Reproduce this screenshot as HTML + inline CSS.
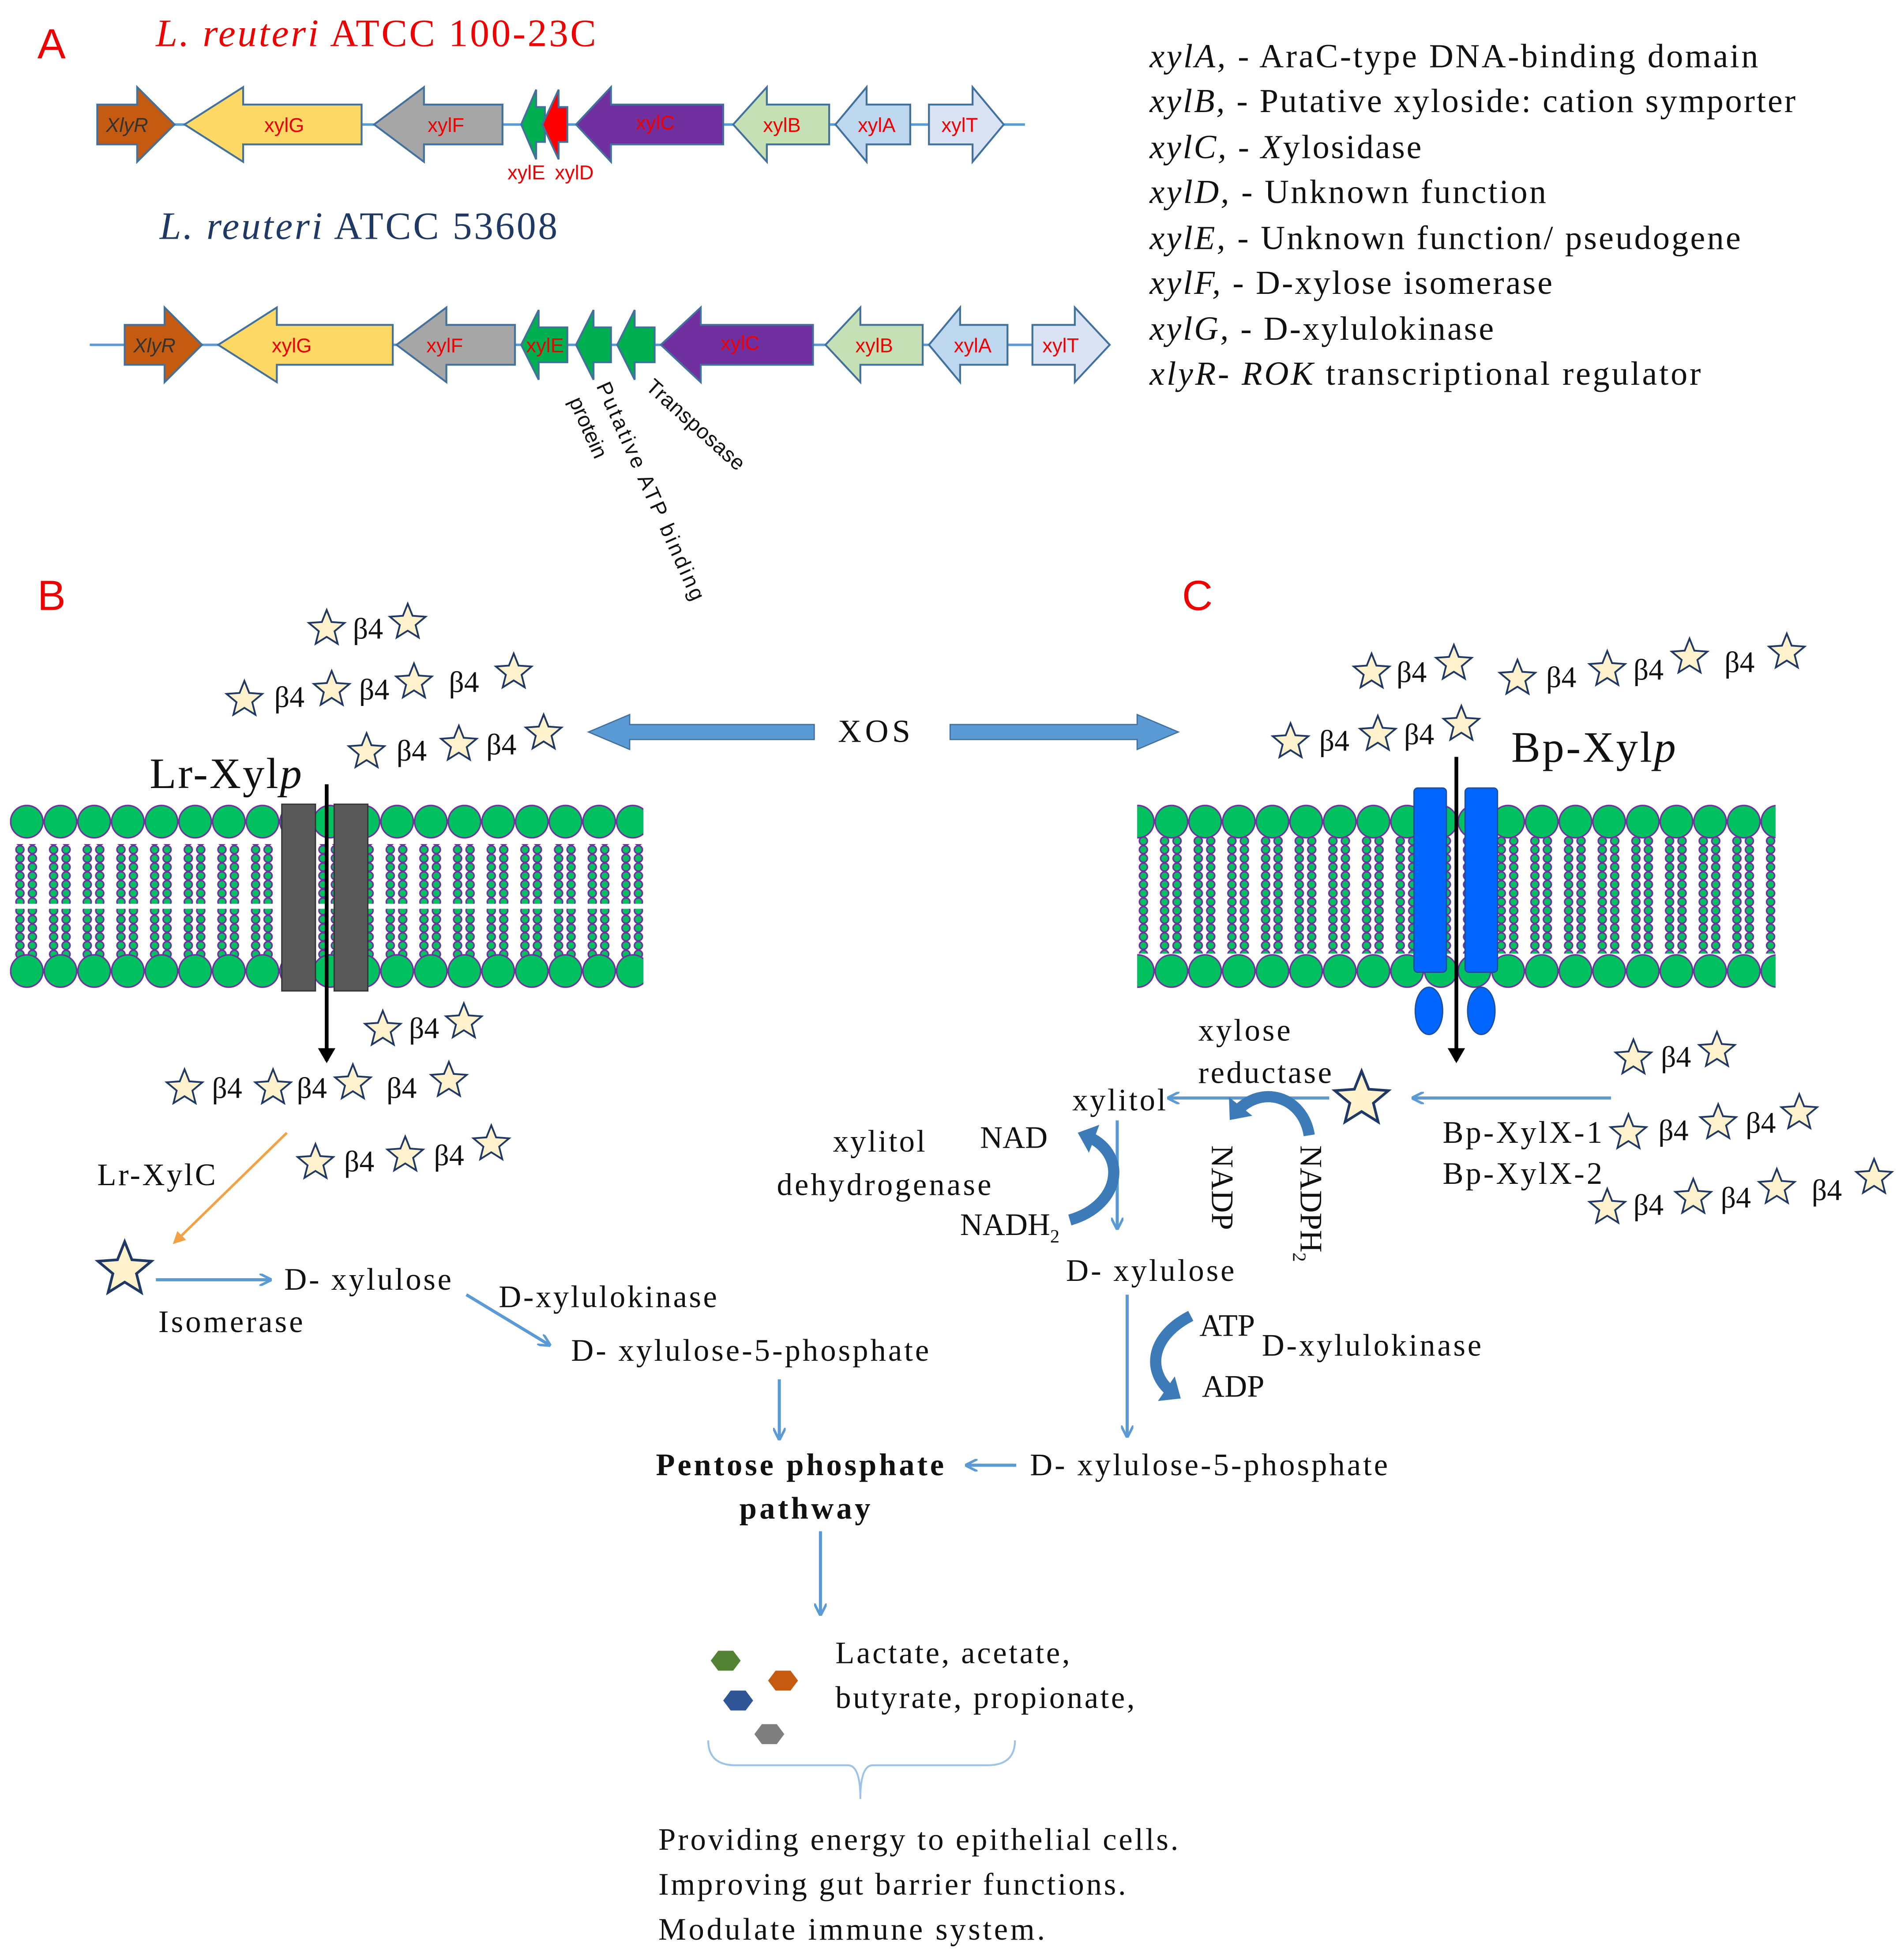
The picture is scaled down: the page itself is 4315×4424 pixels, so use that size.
<!DOCTYPE html>
<html><head><meta charset="utf-8"><style>
html,body{margin:0;padding:0;background:#fff}
svg{display:block}
.s{font-family:"Liberation Serif",serif;fill:#111}
.g{font-family:"Liberation Sans",sans-serif}
</style></head><body>
<svg width="4315" height="4424" viewBox="0 0 1527 1568" preserveAspectRatio="none" xmlns="http://www.w3.org/2000/svg">
<defs>
<symbol id="st" viewBox="-17 -17 34 34" overflow="visible">
<polygon points="0,-16 4.1,-5.7 15.2,-4.9 6.7,2.2 9.4,12.9 0,7 -9.4,12.9 -6.7,2.2 -15.2,-4.9 -4.1,-5.7" fill="#fff2cc" stroke="#1f3864" stroke-width="1.5"/>
</symbol>
<pattern id="tl" x="8" y="0" width="27" height="7" patternUnits="userSpaceOnUse">
<circle cx="8" cy="3.5" r="3.2" fill="#00c060" stroke="#7030a0" stroke-width="1.2"/>
<circle cx="18" cy="3.5" r="3.2" fill="#00c060" stroke="#7030a0" stroke-width="1.2"/>
</pattern>
<pattern id="hd" x="8" y="0" width="27" height="40" patternUnits="userSpaceOnUse">
<circle cx="13.5" cy="20" r="13" fill="#00c060" stroke="#7030a0" stroke-width="1.2"/>
</pattern>
<marker id="ab" markerWidth="10" markerHeight="10" refX="8" refY="5" orient="auto" markerUnits="userSpaceOnUse"><path d="M0,0 L10,5 L0,10" fill="none" stroke="#5b9bd5" stroke-width="2"/></marker>
<marker id="ao" markerWidth="10" markerHeight="10" refX="8" refY="5" orient="auto" markerUnits="userSpaceOnUse"><path d="M0,0 L10,5 L0,10 z" fill="#f4a045"/></marker>
<marker id="ak" markerWidth="14" markerHeight="14" refX="10" refY="7" orient="auto" markerUnits="userSpaceOnUse"><path d="M0,0 L12,7 L0,14 z" fill="#000"/></marker>
<marker id="ac" markerWidth="24" markerHeight="24" refX="8" refY="12" orient="auto" markerUnits="userSpaceOnUse"><path d="M0,0 L14,12 L0,24 z" fill="#3d7ab8"/></marker>
</defs>

<!-- Panel A -->
<text x="30" y="47" class="g" font-size="34" fill="#e00">A</text>
<text x="125" y="37" class="s" font-size="31" style="fill:#e00" textLength="353" lengthAdjust="spacing"><tspan font-style="italic">L. reuteri</tspan> ATCC 100-23C</text>
<line x1="78" y1="100" x2="822" y2="100" stroke="#5b9bd5" stroke-width="2"/>
<g stroke="#41719c" stroke-width="1.5">
<polygon points="78,84 110,84 110,70 140,100 110,130 110,116 78,116" fill="#c55a11"/>
<polygon points="290,84 195,84 195,70 148,100 195,130 195,116 290,116" fill="#ffd966"/>
<polygon points="403,84 340,84 340,70 300,100 340,130 340,116 403,116" fill="#a6a6a6"/>
<polygon points="437,86 430,86 430,72 418,100 430,128 430,114 437,114" fill="#00b050"/>
<polygon points="455,86 448,86 448,72 435,100 448,128 448,114 455,114" fill="#ff0000"/>
<polygon points="580,84 490,84 490,70 462,100 490,130 490,116 580,116" fill="#7030a0"/>
<polygon points="665,84 615,84 615,70 588,100 615,130 615,116 665,116" fill="#c5e0b4"/>
<polygon points="730,84 695,84 695,70 670,100 695,130 695,116 730,116" fill="#bdd7ee"/>
<polygon points="745,84 780,84 780,70 805,100 780,130 780,116 745,116" fill="#dae3f3"/>
</g>
<g class="g" font-size="16" fill="#e00">
<text x="85" y="106" font-style="italic" fill="#333">XlyR</text>
<text x="212" y="106">xylG</text><text x="343" y="106">xylF</text>
<text x="510" y="104">xylC</text><text x="612" y="106">xylB</text>
<text x="688" y="106">xylA</text><text x="755" y="106">xylT</text>
<text x="407" y="144">xylE</text><text x="445" y="144">xylD</text>
</g>
<text x="128" y="192" class="s" font-size="31" style="fill:#1f3864" textLength="319" lengthAdjust="spacing"><tspan font-style="italic">L. reuteri</tspan> ATCC 53608</text>
<line x1="72" y1="277" x2="890" y2="277" stroke="#5b9bd5" stroke-width="2"/>
<g stroke="#41719c" stroke-width="1.5">
<polygon points="100,261 132,261 132,247 162,277 132,307 132,293 100,293" fill="#c55a11"/>
<polygon points="315,261 222,261 222,247 175,277 222,307 222,293 315,293" fill="#ffd966"/>
<polygon points="413,261 358,261 358,247 318,277 358,307 358,293 413,293" fill="#a6a6a6"/>
<polygon points="455,263 432,263 432,249 418,277 432,305 432,291 455,291" fill="#00b050"/>
<polygon points="490,263 476,263 476,249 462,277 476,305 476,291 490,291" fill="#00b050"/>
<polygon points="525,263 509,263 509,249 495,277 509,305 509,291 525,291" fill="#00b050"/>
<polygon points="652,261 562,261 562,247 530,277 562,307 562,293 652,293" fill="#7030a0"/>
<polygon points="740,261 690,261 690,247 662,277 690,307 690,293 740,293" fill="#c5e0b4"/>
<polygon points="808,261 770,261 770,247 745,277 770,307 770,293 808,293" fill="#bdd7ee"/>
<polygon points="828,261 862,261 862,247 890,277 862,307 862,293 828,293" fill="#dae3f3"/>
</g>
<g class="g" font-size="16" fill="#e00">
<text x="107" y="283" font-style="italic" fill="#333">XlyR</text>
<text x="218" y="283">xylG</text><text x="342" y="283">xylF</text>
<text x="422" y="283">xylE</text>
<text x="578" y="281">xylC</text><text x="686" y="283">xylB</text>
<text x="765" y="283">xylA</text><text x="836" y="283">xylT</text>
</g>
<g class="g" font-size="17" fill="#111">
<text transform="translate(517,312) rotate(42)" textLength="100" lengthAdjust="spacing">Transposase</text>
<text transform="translate(478,310) rotate(66)" textLength="190" lengthAdjust="spacing">Putative ATP binding</text>
<text transform="translate(456,322) rotate(66)">protein</text>
</g>
<g class="s" font-size="27">
<text x="922" y="54" textLength="488" lengthAdjust="spacing"><tspan font-style="italic">xylA,</tspan> - AraC-type DNA-binding domain</text>
<text x="922" y="90" textLength="518" lengthAdjust="spacing"><tspan font-style="italic">xylB,</tspan> - Putative xyloside: cation symporter</text>
<text x="922" y="127" textLength="218" lengthAdjust="spacing"><tspan font-style="italic">xylC,</tspan> - <tspan font-style="italic">X</tspan>ylosidase</text>
<text x="922" y="163" textLength="318" lengthAdjust="spacing"><tspan font-style="italic">xylD,</tspan> - Unknown  function</text>
<text x="922" y="200" textLength="474" lengthAdjust="spacing"><tspan font-style="italic">xylE,</tspan> - Unknown  function/  pseudogene</text>
<text x="922" y="236" textLength="323" lengthAdjust="spacing"><tspan font-style="italic">xylF,</tspan> - D-xylose isomerase</text>
<text x="922" y="273" textLength="276" lengthAdjust="spacing"><tspan font-style="italic">xylG,</tspan> - D-xylulokinase</text>
<text x="922" y="309" textLength="442" lengthAdjust="spacing"><tspan font-style="italic">xlyR-  ROK</tspan> transcriptional regulator</text>
</g>

<text x="30" y="490" class="g" font-size="34" fill="#e00">B</text>
<text x="948" y="490" class="g" font-size="34" fill="#e00">C</text>

<polygon points="653,582 505,582 505,574 472,588 505,602 505,594 653,594" fill="#5b9bd5" stroke="#41719c"/>
<polygon points="762,582 912,582 912,574 945,588 912,602 912,594 762,594" fill="#5b9bd5" stroke="#41719c"/>
<text x="672" y="596" class="s" font-size="26" textLength="58" lengthAdjust="spacing">XOS</text>

<!-- Left membrane -->
<rect x="8" y="678" width="508" height="48" fill="url(#tl)"/>
<rect x="8" y="730" width="508" height="48" fill="url(#tl)"/>
<rect x="8" y="642" width="508" height="40" fill="url(#hd)"/>
<rect x="8" y="762" width="508" height="40" fill="url(#hd)"/>
<rect x="226" y="646" width="27" height="150" fill="#595959" stroke="#333"/>
<rect x="268" y="646" width="27" height="150" fill="#595959" stroke="#333"/>
<line x1="262" y1="630" x2="262" y2="852" stroke="#000" stroke-width="3" marker-end="url(#ak)"/>
<text x="120" y="633" class="s" font-size="35" textLength="122" lengthAdjust="spacing">Lr-Xyl<tspan font-style="italic">p</tspan></text>

<!-- Right membrane -->
<rect x="912" y="672" width="512" height="48" fill="url(#tl)"/>
<rect x="912" y="716" width="512" height="50" fill="url(#tl)"/>
<rect x="912" y="634" width="512" height="40" fill="url(#hd)"/>
<rect x="912" y="754" width="512" height="40" fill="url(#hd)"/>
<rect x="1134" y="633" width="26" height="148" rx="3" fill="#0066ff" stroke="#1f4e99"/>
<rect x="1175" y="633" width="26" height="148" rx="3" fill="#0066ff" stroke="#1f4e99"/>
<ellipse cx="1146" cy="812" rx="11" ry="19" fill="#0066ff" stroke="#1f4e99"/>
<ellipse cx="1188" cy="812" rx="11" ry="19" fill="#0066ff" stroke="#1f4e99"/>
<line x1="1168" y1="608" x2="1168" y2="852" stroke="#000" stroke-width="3" marker-end="url(#ak)"/>
<text x="1212" y="612" class="s" font-size="35" textLength="132" lengthAdjust="spacing">Bp-Xyl<tspan font-style="italic">p</tspan></text>

<g class="s" font-size="24">
<use href="#st" x="246" y="489" width="32" height="32"/><text x="283" y="513">β4</text><use href="#st" x="311" y="484" width="32" height="32"/>
<use href="#st" x="180" y="546" width="32" height="32"/><text x="220" y="568">β4</text><use href="#st" x="250" y="538" width="32" height="32"/><text x="288" y="562">β4</text><use href="#st" x="316" y="532" width="32" height="32"/><text x="360" y="556">β4</text><use href="#st" x="396" y="524" width="32" height="32"/>
<use href="#st" x="278" y="588" width="32" height="32"/><text x="318" y="611">β4</text><use href="#st" x="352" y="582" width="32" height="32"/><text x="390" y="606">β4</text><use href="#st" x="420" y="573" width="32" height="32"/>
<use href="#st" x="291" y="811" width="32" height="32"/><text x="328" y="834">β4</text><use href="#st" x="356" y="805" width="32" height="32"/>
<use href="#st" x="132" y="858" width="32" height="32"/><text x="170" y="882">β4</text><use href="#st" x="203" y="858" width="32" height="32"/><text x="238" y="882">β4</text><use href="#st" x="267" y="854" width="32" height="32"/><text x="310" y="882">β4</text><use href="#st" x="344" y="852" width="32" height="32"/>
<use href="#st" x="237" y="918" width="32" height="32"/><text x="276" y="941">β4</text><use href="#st" x="309" y="912" width="32" height="32"/><text x="348" y="936">β4</text><use href="#st" x="378" y="903" width="32" height="32"/>
<use href="#st" x="76" y="996" width="48" height="48"/>

<use href="#st" x="1084" y="524" width="32" height="32"/><text x="1120" y="548">β4</text><use href="#st" x="1150" y="517" width="32" height="32"/>
<use href="#st" x="1201" y="529" width="32" height="32"/><text x="1240" y="552">β4</text><use href="#st" x="1273" y="522" width="32" height="32"/><text x="1310" y="546">β4</text><use href="#st" x="1339" y="512" width="32" height="32"/><text x="1383" y="540">β4</text><use href="#st" x="1417" y="508" width="32" height="32"/>
<use href="#st" x="1019" y="580" width="32" height="32"/><text x="1058" y="603">β4</text><use href="#st" x="1089" y="574" width="32" height="32"/><text x="1126" y="598">β4</text><use href="#st" x="1156" y="566" width="32" height="32"/>
<use href="#st" x="1294" y="834" width="32" height="32"/><text x="1332" y="857">β4</text><use href="#st" x="1361" y="828" width="32" height="32"/>
<use href="#st" x="1290" y="894" width="32" height="32"/><text x="1330" y="916">β4</text><use href="#st" x="1362" y="886" width="32" height="32"/><text x="1400" y="910">β4</text><use href="#st" x="1427" y="878" width="32" height="32"/>
<use href="#st" x="1273" y="954" width="32" height="32"/><text x="1310" y="976">β4</text><use href="#st" x="1342" y="946" width="32" height="32"/><text x="1380" y="970">β4</text><use href="#st" x="1409" y="938" width="32" height="32"/><text x="1453" y="964">β4</text><use href="#st" x="1487" y="930" width="32" height="32"/>
<use href="#st" x="1068" y="859" width="48" height="48"/>
</g>

<line x1="230" y1="910" x2="140" y2="998" stroke="#f4a045" stroke-width="2" marker-end="url(#ao)"/>
<g class="s" font-size="25">
<text x="78" y="952" textLength="95" lengthAdjust="spacing">Lr-XylC</text>
<text x="228" y="1036" textLength="134" lengthAdjust="spacing">D- xylulose</text>
<text x="127" y="1070" textLength="116" lengthAdjust="spacing">Isomerase</text>
<text x="400" y="1050" textLength="175" lengthAdjust="spacing">D-xylulokinase</text>
<text x="458" y="1093" textLength="287" lengthAdjust="spacing">D- xylulose-5-phosphate</text>
<text x="526" y="1185" font-weight="bold" textLength="231" lengthAdjust="spacing">Pentose phosphate</text>
<text x="593" y="1220" font-weight="bold" textLength="105" lengthAdjust="spacing">pathway</text>
<text x="826" y="1185" textLength="287" lengthAdjust="spacing">D- xylulose-5-phosphate</text>
<text x="670" y="1336" textLength="188" lengthAdjust="spacing">Lactate,  acetate,</text>
<text x="670" y="1372" textLength="240" lengthAdjust="spacing">butyrate,  propionate,</text>
<text x="528" y="1486" textLength="417" lengthAdjust="spacing">Providing  energy  to epithelial cells.</text>
<text x="528" y="1522" textLength="375" lengthAdjust="spacing">Improving  gut  barrier  functions.</text>
<text x="528" y="1558" textLength="310" lengthAdjust="spacing">Modulate  immune  system.</text>
</g>
<g stroke="#5b9bd5" stroke-width="2.5" fill="none" marker-end="url(#ab)">
<line x1="125" y1="1028" x2="216" y2="1028"/>
<line x1="374" y1="1040" x2="440" y2="1080"/>
<line x1="625" y1="1108" x2="625" y2="1155"/>
<line x1="815" y1="1177" x2="776" y2="1177"/>
<line x1="658" y1="1230" x2="658" y2="1296"/>
<line x1="1292" y1="882" x2="1134" y2="882"/>
<line x1="1066" y1="882" x2="938" y2="882"/>
<line x1="896" y1="900" x2="896" y2="986"/>
<line x1="904" y1="1040" x2="904" y2="1153"/>
</g>

<g class="s" font-size="25">
<text x="961" y="836" textLength="74" lengthAdjust="spacing">xylose</text>
<text x="961" y="870" textLength="107" lengthAdjust="spacing">reductase</text>
<text x="860" y="892" textLength="75" lengthAdjust="spacing">xylitol</text>
<text x="668" y="925" textLength="74" lengthAdjust="spacing">xylitol</text>
<text x="623" y="960" textLength="172" lengthAdjust="spacing">dehydrogenase</text>
<text x="786" y="922">NAD</text>
<text x="770" y="992">NADH<tspan font-size="15" dy="6">2</tspan></text>
<text x="855" y="1029" textLength="135" lengthAdjust="spacing">D- xylulose</text>
<text x="1157" y="918" textLength="128" lengthAdjust="spacing">Bp-XylX-1</text>
<text x="1157" y="951" textLength="128" lengthAdjust="spacing">Bp-XylX-2</text>
<text x="962" y="1073">ATP</text>
<text x="1012" y="1089" textLength="176" lengthAdjust="spacing">D-xylulokinase</text>
<text x="964" y="1122">ADP</text>
<text transform="translate(972,920) rotate(90)">NADP</text>
<text transform="translate(1043,920) rotate(90)">NADPH<tspan font-size="15" dy="6">2</tspan></text>
</g>
<g fill="none" stroke="#3d7ab8" stroke-width="9">
<path d="M1050,912 C1045,880 1010,870 990,895" marker-end="url(#ac)"/>
<path d="M858,980 C900,968 905,925 870,912" marker-end="url(#ac)"/>
<path d="M955,1057 C920,1075 920,1105 942,1120" marker-end="url(#ac)"/>
</g>

<polygon points="570,1334 576,1326 588,1326 594,1334 588,1342 576,1342" fill="#548235"/>
<polygon points="616,1350 622,1342 634,1342 640,1350 634,1358 622,1358" fill="#c55a11"/>
<polygon points="580,1366 586,1358 598,1358 604,1366 598,1374 586,1374" fill="#2f5597"/>
<polygon points="605,1393 611,1385 623,1385 629,1393 623,1401 611,1401" fill="#7f7f7f"/>
<path d="M568,1398 Q568,1418 590,1418 L680,1418 Q690,1418 690,1445 Q690,1418 700,1418 L792,1418 Q814,1418 814,1398" fill="none" stroke="#9dc3e6" stroke-width="1.5"/>
</svg>
</body></html>
